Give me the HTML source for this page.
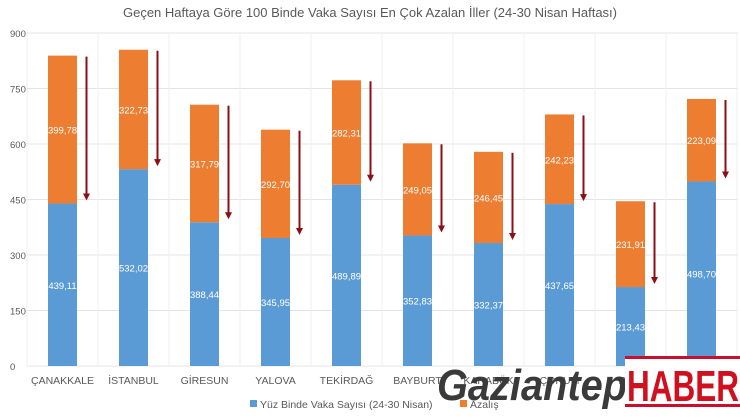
<!DOCTYPE html>
<html><head><meta charset="utf-8"><style>
body{margin:0;background:#fff;font-family:"Liberation Sans",sans-serif}
</style></head><body>
<svg id="c" width="740" height="417" xmlns="http://www.w3.org/2000/svg" style="display:block">
<text x="370" y="17" text-anchor="middle" font-size="13" fill="#595959">Geçen Haftaya Göre 100 Binde Vaka Sayısı En Çok Azalan İller (24-30 Nisan Haftası)</text>
<g id="grid"></g><g id="bars"></g>
<g>
<rect x="250" y="400" width="7" height="7" fill="#5b9bd5"/>
<text x="260" y="408" font-size="10.5" fill="#595959">Yüz Binde Vaka Sayısı (24-30 Nisan)</text>
<rect x="460" y="400" width="7" height="7" fill="#ed7d31"/>
<text x="470" y="408" font-size="10.5" fill="#595959">Azalış</text>
</g>
<g>
<text x="437" y="400" font-size="44" font-weight="bold" font-style="italic" fill="#3a3a3a" textLength="190" lengthAdjust="spacingAndGlyphs">Gaziantep</text>
<rect x="625" y="356" width="115" height="3" fill="#c8102e"/>
<rect x="625" y="404" width="115" height="3" fill="#c8102e"/>
<rect x="625" y="359" width="115" height="45" fill="#fff"/>
<text x="627" y="401" font-size="44" font-weight="bold" fill="#d0101e" textLength="112" lengthAdjust="spacingAndGlyphs">HABER</text>
</g>
</svg>
<script>
const categories=["ÇANAKKALE","İSTANBUL","GİRESUN","YALOVA","TEKİRDAĞ","BAYBURT","KARABÜK","ÇORUM","RİZE","BARTIN"];
const cases=[439.11,532.02,388.44,345.95,489.89,352.83,332.37,437.65,213.43,498.70];
const decrease=[399.78,322.73,317.79,292.70,282.31,249.05,246.45,242.23,231.91,223.09];
const ticks=[0,150,300,450,600,750,900];
const NS="http://www.w3.org/2000/svg";
const y0=366,y1=33,x0=27,x1=738,bw=71;
const y=v=>y0-(v/900)*(y0-y1);
const xc=i=>x0+bw*(i+0.5);
function el(t,a,p){const e=document.createElementNS(NS,t);for(const k in a)e.setAttribute(k,a[k]);p.appendChild(e);return e;}
const g=document.getElementById('grid'),b=document.getElementById('bars');
ticks.forEach(t=>{
 const l=el('line',{x1:x0,x2:x1,y1:y(t),y2:y(t),stroke:'#e4e4e4'},g);
 
 
 const tx=el('text',{x:10,y:y(t)+4,'font-size':9.5,fill:'#595959'},g);tx.textContent=t;
 
 
});
for(let i=0;i<=categories.length;i++){el('line',{x1:x0+bw*i,x2:x0+bw*i,y1:y1,y2:y0,stroke:'#efefef'},g);}
categories.forEach((c,i)=>{
 const cx=xc(i),w=29;
 const r1=el('rect',{x:cx-w/2,y:y(cases[i]),width:w,height:y0-y(cases[i]),fill:'#5b9bd5'},b);
 
 
 const tot=cases[i]+decrease[i];
 const r2=el('rect',{x:cx-w/2,y:y(tot),width:w,height:y(cases[i])-y(tot),fill:'#ed7d31'},b);
 
 
 const f=v=>v.toFixed(2).replace('.',',');
 const t1=el('text',{x:cx,y:(y(cases[i])+y0)/2+4,'font-size':9.5,fill:'#fff','text-anchor':'middle'},b);t1.textContent=f(cases[i]);
 const t2=el('text',{x:cx,y:(y(tot)+y(cases[i]))/2+4,'font-size':9.5,fill:'#fff','text-anchor':'middle'},b);t2.textContent=f(decrease[i]);
 const ax=cx+24,ya=y(tot)+1,yb=y(cases[i])-4;
 const a=el('line',{x1:ax,x2:ax,y1:ya,y2:yb-5,stroke:'#8b0f14','stroke-width':2},b);
 
 
 el('polygon',{points:`${ax-3.5},${yb-6} ${ax+3.5},${yb-6} ${ax},${yb+1}`,fill:'#8b0f14'},b);
 const lb=el('text',{x:cx,y:384,'font-size':10.5,fill:'#595959','text-anchor':'middle'},b);lb.textContent=c;
 
 
});
</script>
</body></html>
